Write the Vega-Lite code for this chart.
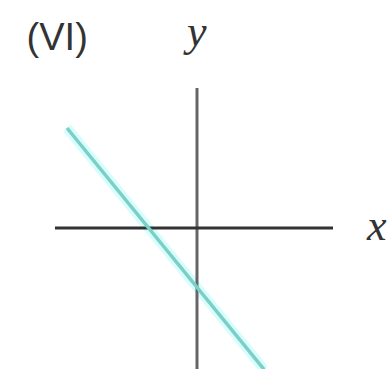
{
  "$schema": "https://vega.github.io/schema/vega-lite/v6.json",
  "width": 389,
  "height": 369,
  "autosize": "none",
  "padding": 0,
  "background": "white",
  "config": {"view": {"stroke": null}},
  "datasets": {
    "axes": [
      {"name": "x-axis", "x": -5.917, "x2": 5.667, "y": 0, "y2": 0},
      {"name": "y-axis", "x": 0, "x2": 0, "y": 5.833, "y2": -6.0}
    ],
    "line": [
      {"x": -5.417, "y": 4.167},
      {"x": 2.8, "y": -5.9}
    ],
    "labels": [
      {"label": "(VI)", "x": -7.1, "y": 7.417, "kind": "title"},
      {"label": "y", "x": 0.0, "y": 7.583, "kind": "axis"},
      {"label": "x", "x": 7.5, "y": -0.5, "kind": "axis"}
    ]
  },
  "layer": [
    {
      "data": {"name": "line"},
      "mark": {"type": "line", "stroke": "#cdfdfb", "strokeWidth": 10, "opacity": 0.8, "strokeCap": "butt"},
      "encoding": {
        "x": {"field": "x", "type": "quantitative", "scale": {"domain": [-8.208, 8.0], "nice": false, "zero": false}, "axis": null},
        "y": {"field": "y", "type": "quantitative", "scale": {"domain": [-5.875, 9.5], "nice": false, "zero": false}, "axis": null}
      }
    },
    {
      "data": {"name": "axes"},
      "transform": [{"filter": "datum.name === 'y-axis'"}],
      "mark": {"type": "rule", "stroke": "#666666", "strokeWidth": 3},
      "encoding": {
        "x": {"field": "x", "type": "quantitative"},
        "x2": {"field": "x2"},
        "y": {"field": "y", "type": "quantitative"},
        "y2": {"field": "y2"}
      }
    },
    {
      "data": {"name": "axes"},
      "transform": [{"filter": "datum.name === 'x-axis'"}],
      "mark": {"type": "rule", "stroke": "#333333", "strokeWidth": 3},
      "encoding": {
        "x": {"field": "x", "type": "quantitative"},
        "x2": {"field": "x2"},
        "y": {"field": "y", "type": "quantitative"},
        "y2": {"field": "y2"}
      }
    },
    {
      "data": {"name": "line"},
      "mark": {"type": "line", "stroke": "#7ccfc7", "strokeWidth": 3.5, "strokeCap": "butt"},
      "encoding": {
        "x": {"field": "x", "type": "quantitative"},
        "y": {"field": "y", "type": "quantitative"}
      }
    },
    {
      "data": {"name": "labels"},
      "transform": [{"filter": "datum.kind === 'title'"}],
      "mark": {"type": "text", "align": "left", "baseline": "alphabetic", "font": "Liberation Sans", "fontSize": 38, "color": "#333333"},
      "encoding": {
        "x": {"field": "x", "type": "quantitative"},
        "y": {"field": "y", "type": "quantitative"},
        "text": {"field": "label"}
      }
    },
    {
      "data": {"name": "labels"},
      "transform": [{"filter": "datum.kind === 'axis'"}],
      "mark": {"type": "text", "align": "left", "baseline": "alphabetic", "font": "Liberation Serif", "fontStyle": "italic", "fontSize": 44, "color": "#333333", "dx": -10},
      "encoding": {
        "x": {"field": "x", "type": "quantitative"},
        "y": {"field": "y", "type": "quantitative"},
        "text": {"field": "label"}
      }
    }
  ]
}
